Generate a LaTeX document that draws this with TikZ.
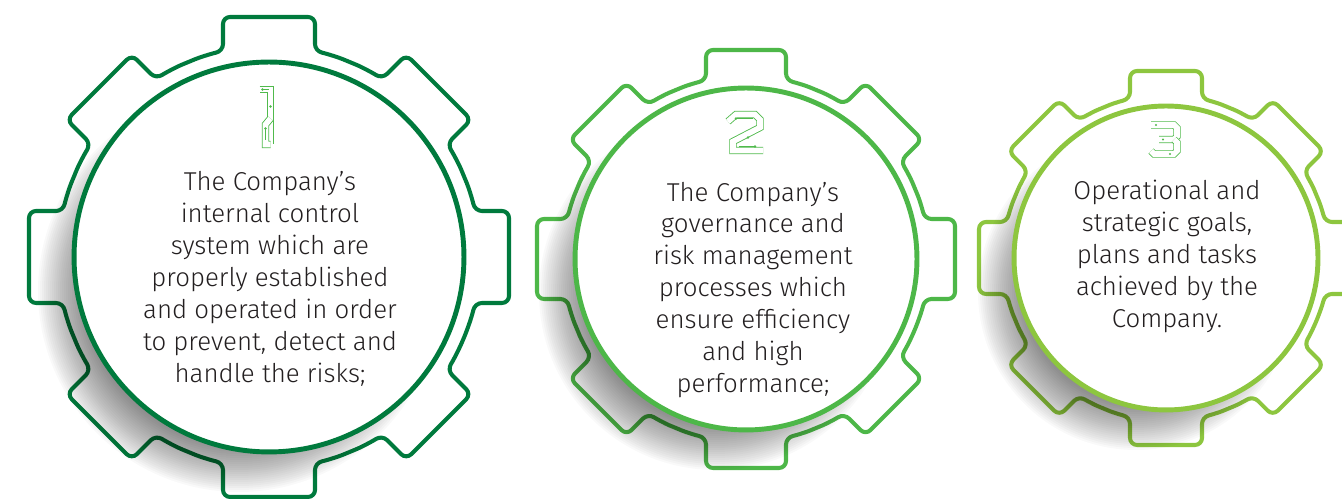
\documentclass[tikz,border=0pt]{standalone}
\usepackage{fontspec}
\setmainfont{Fira Sans}[UprightFont=* Light]
\usetikzlibrary{calc}

\definecolor{gearone}{RGB}{0,122,61}
\definecolor{geartwo}{RGB}{77,183,72}
\definecolor{gearthree}{RGB}{141,198,63}
\definecolor{digitgreen}{RGB}{80,186,76}
\definecolor{textgray}{RGB}{35,31,32}

% gear: centre x, centre y, tip radius, tooth half width, body radius, colour
\newcommand{\gearoutline}[6]{%
  \pgfmathsetmacro\gd{asin(#4/#5)}%
  \pgfmathsetmacro\gx{#5*cos(\gd)}%
  \draw[gearline, draw=#6, shift={(#1,#2)}] (-22.5:#5)
    \foreach \a in {0,45,...,315}{
      arc[start angle=\a-22.5, end angle=\a-\gd, radius=#5]
      -- ([rotate=\a]#3,-#4) -- ([rotate=\a]#3,#4) -- ([rotate=\a]\gx,#4)
      arc[start angle=\a+\gd, end angle=\a+22.5, radius=#5]
    };}

% soft shadow down left of the ring
\newcommand{\gearshadow}[3]{%
  \foreach \k in {1,...,26}
    \fill[black, opacity=0.022] ($(#1,#2)+(-30,-34)$) circle ({#3+8-\k*2});}

\tikzset{
  gearline/.style={line width=2.3pt, rounded corners=4pt},
  ringnode/.style={circle, fill=white, line width=2.8pt, inner sep=0pt},
  geartext/.style={align=center, text=textgray, font=\fontsize{14.7}{18.2}\selectfont},
  digitline/.style={draw=digitgreen, line width=0.5pt, double=white, double distance=3.2pt},
  trace/.style={draw=digitgreen, line width=0.45pt},
}

\begin{document}
\begin{tikzpicture}[x=0.02cm, y=0.02cm]
	\useasboundingbox (0,0) rectangle (1342,499);
	
	% gear 1
	\gearoutline{269}{242}{240}{46}{211}{gearone}
	\gearshadow{269}{242}{195}
	\node[ringnode, draw=gearone, minimum size=7.8cm] (ring1) at (269,242) {};
	\begin{scope}[shift={(265.5,382.5)}, yscale=-1]
		\draw[digitline] (-6,-27) -- (5,-27) -- (5,28);
		\draw[digitline] (5,2) -- (0,8) -- (0,28) -- (5,28);
		\draw[trace] (-3,-27) -- (3,-27);
		\draw[trace] (0,12) -- (0,24);
		\fill[digitgreen] (-3,-27) circle (1.3) (0,12) circle (1.3) (5,-10) circle (1.3);
	\end{scope}
	\node[geartext] (txt1) at (270,220) {The Company’s\\internal control\\system which are\\properly established\\and operated in order\\to prevent, detect and\\handle the risks;};
	
	% gear 2
	\gearoutline{746}{240}{209}{40}{183}{geartwo}
	\gearshadow{746}{240}{171}
	\node[ringnode, draw=geartwo, minimum size=6.84cm] (ring2) at (746,240) {};
	\begin{scope}[shift={(745,366.5)}, yscale=-1]
		\draw[digitline] (-17,-11) -- (-9,-18) -- (10,-18) -- (15,-13) -- (15,-5) -- (-12,9) -- (-12,18) -- (18,18);
		\draw[trace] (-9,-14) -- (8,-14);
		\draw[trace] (-6,14) -- (10,14);
		\fill[digitgreen] (-9,-14) circle (1.3) (10,14) circle (1.3) (3,5) circle (1.3);
	\end{scope}
	\node[geartext] (txt2) at (753,209) {The Company’s\\governance and\\risk management\\processes which\\ensure efficiency\\and high\\performance;};
	
	% gear 3
	\gearoutline{1166}{241}{187}{36}{163}{gearthree}
	\gearshadow{1166}{241}{152}
	\node[ringnode, draw=gearthree, minimum size=6.08cm] (ring3) at (1166,241) {};
	\begin{scope}[shift={(1164,359.5)}, yscale=-1]
		\draw[digitline] (-13,-14.5) -- (10,-14.5) -- (13,-11.5) -- (13,-3) -- (10,0) -- (-5,0);
		\draw[digitline] (10,0) -- (13,3) -- (13,11.5) -- (10,14.5) -- (-10,14.5) -- (-13,11.5);
		\fill[digitgreen] (-8,-14.5) circle (1.2) (-1,0) circle (1.2) (6,14.5) circle (1.2);
	\end{scope}
	\node[geartext] (txt3) at (1167,243) {Operational and\\strategic goals,\\plans and tasks\\achieved by the\\Company.};
	
\end{tikzpicture}
\end{document}
